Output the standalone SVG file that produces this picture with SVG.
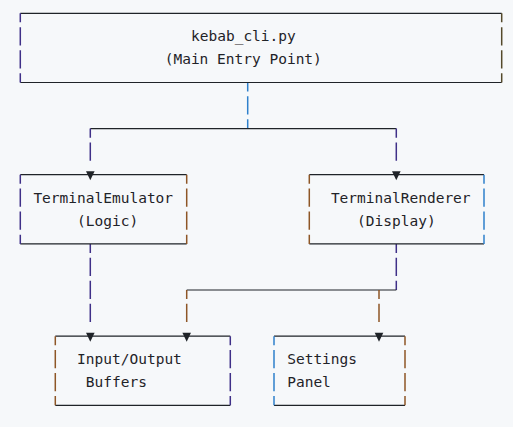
<svg xmlns="http://www.w3.org/2000/svg" width="513" height="427" viewBox="0 0 513 427">
<style>
.bg{fill:#f6f8fa}
.h{stroke:#1f2328;stroke-width:1.2;fill:none}
.v{stroke-width:1.5;fill:none;stroke-dasharray:18.26 4.8;stroke-dashoffset:9.23}
.pu{stroke:#3f3088}
.or{stroke:#8e5626}
.bl{stroke:#2f80cc}
.ol{stroke:#54492a}
.ar{fill:#1f2328}
text{font-family:"DejaVu Sans Mono","Liberation Mono",monospace;font-size:14.5px;fill:#1f2328}
</style>
<defs>
<path id="tri" d="M-4.3,-3.4 L4.3,-3.4 L0,5.6 Z"/>
</defs>
<rect class="bg" width="513" height="427"/>

<g id="connectors">
<path class="v bl" d="M247.7,82.48 V128.6"/>
<path class="h" d="M90.3,128.6 H396.3"/>
<path class="v pu" d="M90.3,128.6 V163.2"/>
<path class="v pu" d="M396.3,128.6 V163.2"/>
<path class="v pu" d="M90.3,243.9 V324.6"/>
<path class="v pu" d="M396.3,243.9 V290.02"/>
<path class="h" d="M186.7,290.02 H396.3"/>
<path class="v or" d="M186.7,290.02 V324.6"/>
<path class="v or" d="M379,290.02 V324.6"/>
</g>

<g id="main">
<path class="h" d="M20.3,13.3 H501.7 M20.3,82.48 H501.7"/>
<path class="v pu" d="M20.3,13.3 V82.48"/>
<path class="v ol" d="M501.7,13.3 V82.48"/>
<text x="191" y="41.3">kebab_cli.py</text>
<text x="164.7" y="64.3">(Main Entry Point)</text>
</g>

<g id="emulator">
<path class="h" d="M20.3,174.72 H186.7 M20.3,243.9 H186.7"/>
<path class="v pu" d="M20.3,174.72 V243.9"/>
<path class="v or" d="M186.7,174.72 V243.9"/>
<use href="#tri" class="ar" x="90.3" y="174.72"/>
<text x="33.4" y="202.7">TerminalEmulator</text>
<text x="77.1" y="225.7">(Logic)</text>
</g>

<g id="renderer">
<path class="h" d="M309.3,174.72 H484 M309.3,243.9 H484"/>
<path class="v or" d="M309.3,174.72 V243.9"/>
<path class="v bl" d="M484,174.72 V243.9"/>
<use href="#tri" class="ar" x="396.3" y="174.72"/>
<text x="330.9" y="202.7">TerminalRenderer</text>
<text x="357.1" y="225.7">(Display)</text>
</g>

<g id="buffers">
<path class="h" d="M55.3,336.14 H230.3 M55.3,405.32 H230.3"/>
<path class="v or" d="M55.3,336.14 V405.32"/>
<path class="v pu" d="M230.3,336.14 V405.32"/>
<use href="#tri" class="ar" x="90.3" y="336.14"/>
<use href="#tri" class="ar" x="186.7" y="336.14"/>
<text x="77.1" y="364.1">Input/Output</text>
<text x="85.8" y="387.2">Buffers</text>
</g>

<g id="settings">
<path class="h" d="M274,336.14 H405 M274,405.32 H405"/>
<path class="v bl" d="M274,336.14 V405.32"/>
<path class="v or" d="M405,336.14 V405.32"/>
<use href="#tri" class="ar" x="379" y="336.14"/>
<text x="287.2" y="364.1">Settings</text>
<text x="287.2" y="387.2">Panel</text>
</g>
</svg>
